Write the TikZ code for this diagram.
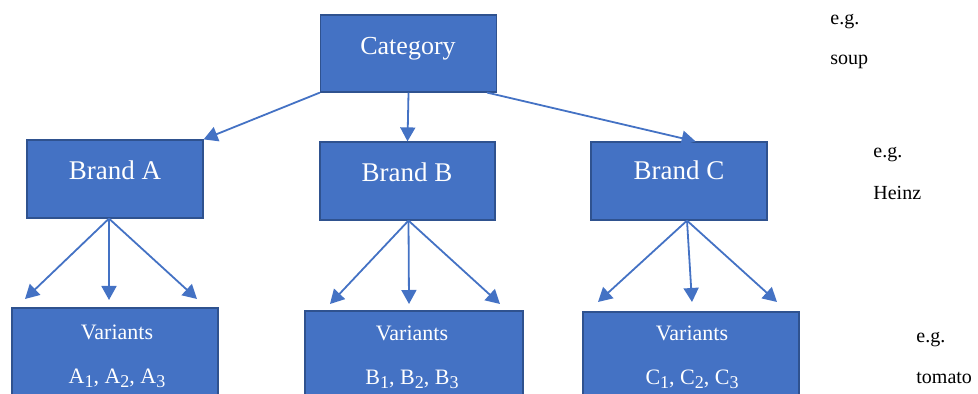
\documentclass[tikz,border=0pt]{standalone}
\usepackage{fontspec}
\setmainfont{Liberation Serif}
\usetikzlibrary{arrows.meta}
\definecolor{boxblue}{HTML}{4472C4}
\definecolor{boxedge}{HTML}{2F528F}
\newcommand{\lowsub}[1]{\raisebox{-0.35ex}{\fontsize{9pt}{10pt}\selectfont #1}}
\begin{document}
\begin{tikzpicture}[x=0.5pt,y=-0.5pt,
  box/.style={draw=boxedge, line width=0.6pt, fill=boxblue, inner sep=0pt},
  boxtext/.style={text=white, inner sep=0pt, anchor=base},
  note/.style={inner sep=0pt, anchor=base west, font=\fontsize{10pt}{12pt}\selectfont},
  conn/.style={draw=boxblue, line width=0.9pt, -{Triangle[length=7pt,width=7.5pt]}}]
\useasboundingbox (0,0) rectangle (978,394);
\clip (0,0) rectangle (978,394);
% boxes
\node[box, minimum width=88pt, minimum height=38.5pt] (cat) at (408.5,53.5) {};
\node[box, minimum width=88pt, minimum height=39pt] (ba) at (115,179) {};
\node[box, minimum width=87.5pt, minimum height=39pt] (bb) at (407.5,181) {};
\node[box, minimum width=88pt, minimum height=39pt] (bc) at (679,181) {};
\node[box, minimum width=103pt, minimum height=46pt] (va) at (115,354) {};
\node[box, minimum width=109pt, minimum height=46pt] (vb) at (414,357) {};
\node[box, minimum width=108pt, minimum height=46pt] (vc) at (691,358) {};
% texts
\node[boxtext, font=\fontsize{13pt}{15pt}\selectfont] (tcat) at (408,55) {Category};
\node[boxtext, font=\fontsize{13.5pt}{15pt}\selectfont] (tba) at (115,180) {Brand A};
\node[boxtext, font=\fontsize{13.5pt}{15pt}\selectfont] (tbb) at (407,182) {Brand B};
\node[boxtext, font=\fontsize{13.5pt}{15pt}\selectfont] (tbc) at (679,180) {Brand C};
\node[boxtext, font=\fontsize{11pt}{13pt}\selectfont] (tva1) at (117,340) {Variants};
\node[boxtext, font=\fontsize{11pt}{13pt}\selectfont] (tva2) at (117,384) {A\lowsub{1}, A\lowsub{2}, A\lowsub{3}};
\node[boxtext, font=\fontsize{11pt}{13pt}\selectfont] (tvb1) at (412,341) {Variants};
\node[boxtext, font=\fontsize{11pt}{13pt}\selectfont] (tvb2) at (412,385) {B\lowsub{1}, B\lowsub{2}, B\lowsub{3}};
\node[boxtext, font=\fontsize{11pt}{13pt}\selectfont] (tvc1) at (692,341) {Variants};
\node[boxtext, font=\fontsize{11pt}{13pt}\selectfont] (tvc2) at (692,385) {C\lowsub{1}, C\lowsub{2}, C\lowsub{3}};
% notes
\node[note] (n1a) at (830,25) {e.g.};
\node[note] (n1b) at (830,65) {soup};
\node[note] (n2a) at (873,158) {e.g.};
\node[note] (n2b) at (873,200) {Heinz};
\node[note] (n3a) at (916,343) {e.g.};
\node[note] (n3b) at (916,384) {tomato};
% anchor coordinates
\coordinate (cA) at (cat.south west);
\coordinate (cB) at ([xshift=0pt]cat.south);
\coordinate (cC) at ([xshift=-5pt]cat.south east);
\coordinate (bAt) at (ba.north east);
\coordinate (bBt) at (bb.north);
\coordinate (bCt) at ([xshift=-36pt]bc.north east);
\coordinate (sA) at ([xshift=-3pt]ba.south);
\coordinate (sB) at ([xshift=0.5pt]bb.south);
\coordinate (sC) at ([xshift=4pt]bc.south);
\coordinate (a1) at (25,299);
\coordinate (a2) at (109,300);
\coordinate (a3) at (197,299);
\coordinate (b1) at (330,304);
\coordinate (b2) at (409,304);
\coordinate (b3) at (500,304);
\coordinate (c1) at (598,302);
\coordinate (c2) at (692,302);
\coordinate (c3) at (777,302);
% connectors
\draw[conn] (cA) -- (bAt);
\draw[conn] (cB) -- (bBt);
\draw[conn] (cC) -- (bCt);
\draw[conn] (sA) -- (a1);
\draw[conn] (sA) -- (a2);
\draw[conn] (sA) -- (a3);
\draw[conn] (sB) -- (b1);
\draw[conn] (sB) -- (b2);
\draw[conn] (sB) -- (b3);
\draw[conn] (sC) -- (c1);
\draw[conn] (sC) -- (c2);
\draw[conn] (sC) -- (c3);
\end{tikzpicture}
\end{document}
